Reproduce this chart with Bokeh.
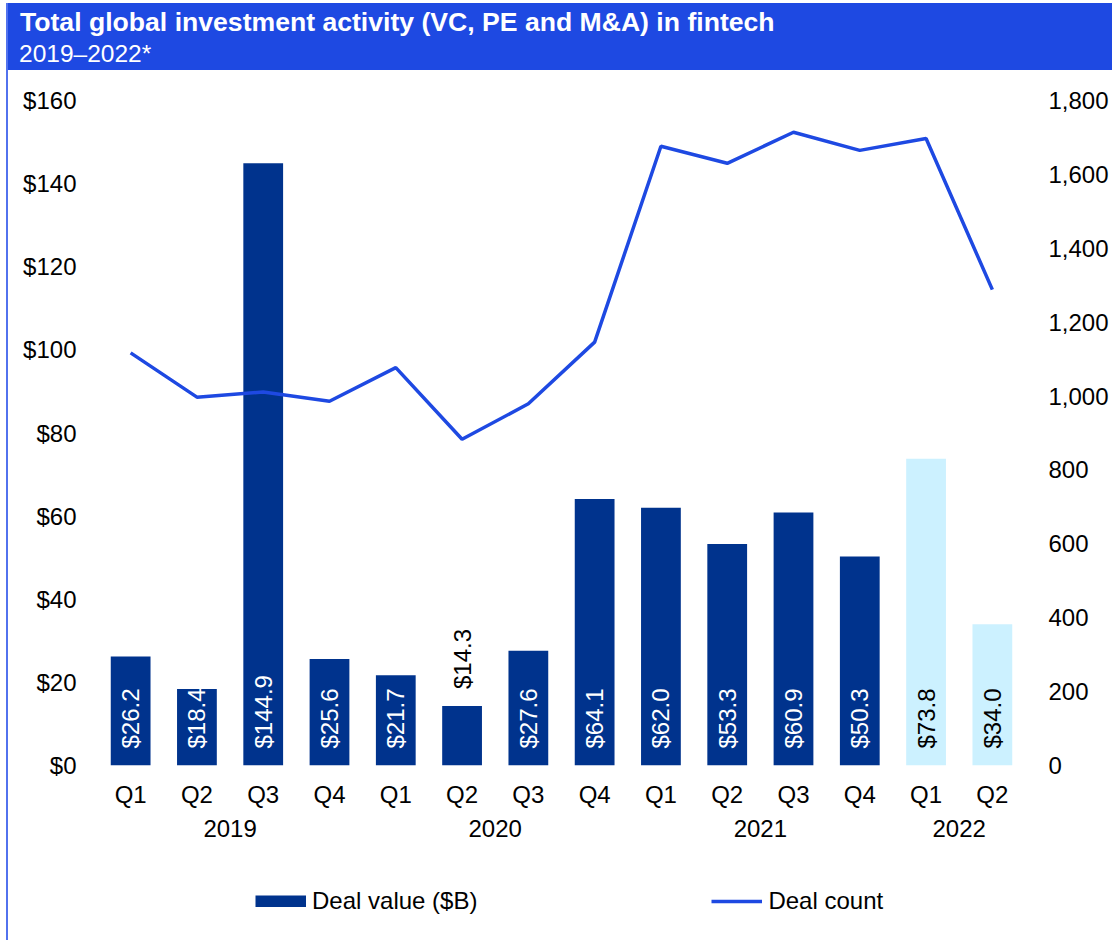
import math
from bokeh.plotting import figure
from bokeh.models import (FactorRange, Range1d, LinearAxis, FixedTicker, NumeralTickFormatter,
                          ColumnDataSource, Legend, LegendItem, Div)
from bokeh.layouts import row, column
from bokeh.transform import factor_cmap
from bokeh.core.properties import value
from bokeh.embed import file_html
from bokeh.resources import INLINE

# ---- data ----
years = ["2019"] * 4 + ["2020"] * 4 + ["2021"] * 4 + ["2022"] * 2
quarters = ["Q1", "Q2", "Q3", "Q4"] * 3 + ["Q1", "Q2"]
deal_value = [26.2, 18.4, 144.9, 25.6, 21.7, 14.3, 27.6, 64.1, 62.0, 53.3, 60.9, 50.3, 73.8, 34.0]
deal_count = [1117, 997, 1011, 986, 1077, 883, 979, 1146, 1676, 1630, 1714, 1665, 1697, 1288]
value_ticks = [0, 20, 40, 60, 80, 100, 120, 140, 160]
count_ticks = [0, 200, 400, 600, 800, 1000, 1200, 1400, 1600, 1800]
year_groups = ["2019", "2020", "2021", "2022"]

TITLE = "Total global investment activity (VC, PE and M&amp;A) in fintech"
SUBTITLE = "2019\u20132022*"
SERIES = ["Deal value ($B)", "Deal count"]

# ---- styles ----
DARK = "#00338D"
LIGHT = "#CCF1FF"
COBALT = "#1E49E2"
EDGE = "#5272EE"
FONT = "Liberation Sans"
FS = "24px"

factors = list(zip(years, quarters))
label_text = [f"${v:.1f}" for v in deal_value]
inside = [v >= 18 for v in deal_value]
label_y = [0 if ins else v for ins, v in zip(inside, deal_value)]
label_color = ["white" if (ins and y != "2022") else "black" for ins, y in zip(inside, years)]

src = ColumnDataSource(dict(x=factors, value=deal_value, count=deal_count,
                            label=label_text, label_y=label_y, label_color=label_color))

W = 1104

# ---- banner ----
banner_html = (
    f'<div style="position:relative;width:{W}px;height:67px;background:{COBALT};'
    f'color:white;font-family:\'Liberation Sans\',Arial,sans-serif;">'
    f'<div style="position:absolute;left:12px;top:6px;font-size:26.6px;font-weight:bold;'
    f'line-height:1;white-space:nowrap;">{TITLE}</div>'
    f'<div style="position:absolute;left:11px;top:39px;font-size:24.5px;'
    f'line-height:1;white-space:nowrap;">{SUBTITLE}</div>'
    f'</div>'
)
banner = Div(text=banner_html, width=W, height=67, margin=0)

# ---- main chart ----
p = figure(width=W, height=780,
           x_range=FactorRange(*factors, range_padding=0, group_padding=0, factor_padding=0),
           y_range=Range1d(0, 160), output_backend="svg", toolbar_location=None,
           min_border_left=89, min_border_right=87, min_border_top=30, min_border_bottom=85)
p.outline_line_color = None
p.grid.visible = False
p.extra_y_ranges = {"count": Range1d(0, 1800)}

bars = p.vbar(x="x", top="value", width=0.6, source=src, line_color=None,
              fill_color=factor_cmap("x", palette=[DARK, DARK, DARK, LIGHT],
                                     factors=year_groups, end=1))
line = p.line(x="x", y="count", source=src, y_range_name="count",
              line_color=COBALT, line_width=3.5)
p.text(x="x", y="label_y", text="label", source=src, angle=math.pi / 2,
       text_align="left", text_baseline="middle", y_offset=-17,
       text_color="label_color", text_font=value(FONT), text_font_size=FS)

ly = p.yaxis[0]
ly.ticker = FixedTicker(ticks=value_ticks)
ly.formatter = NumeralTickFormatter(format="$0")
ly.major_label_standoff = 15

ry = LinearAxis(y_range_name="count", ticker=FixedTicker(ticks=count_ticks),
                formatter=NumeralTickFormatter(format="0,0"))
ry.major_label_standoff = 17
p.add_layout(ry, "right")

for ax in [ly, ry]:
    ax.axis_line_color = None
    ax.major_tick_line_color = None
    ax.minor_tick_line_color = None
    ax.major_label_text_font = FONT
    ax.major_label_text_font_size = FS
    ax.major_label_text_color = "black"

xa = p.xaxis[0]
xa.axis_line_color = None
xa.major_tick_line_color = None
xa.minor_tick_line_color = None
xa.major_label_text_font = FONT
xa.major_label_text_font_size = FS
xa.major_label_text_color = "black"
xa.major_label_standoff = 9
xa.group_text_font = FONT
xa.group_text_font_size = FS
xa.group_text_font_style = "normal"
xa.group_text_color = "black"
xa.separator_line_alpha = 0

# ---- legend strip (swatches styled like the chart's series; no visible data) ----
nan = float("nan")
lf = figure(width=W, height=90, x_range=Range1d(0, 1), y_range=Range1d(0, 1),
            output_backend="svg", toolbar_location=None, min_border=0,
            x_axis_type=None, y_axis_type=None)
lf.outline_line_color = None
lf.grid.visible = False
lg_bar = lf.line(x=[nan, nan], y=[nan, nan], line_color=DARK, line_width=12, line_cap="butt")
lg_line = lf.line(x=[nan, nan], y=[nan, nan], line_color=COBALT, line_width=3.5)
legend = Legend(items=[LegendItem(label=SERIES[0], renderers=[lg_bar]),
                       LegendItem(label=SERIES[1], renderers=[lg_line])],
                orientation="horizontal", location=(158, 25),
                glyph_width=51, glyph_height=12, label_standoff=6, spacing=234,
                padding=0, margin=0, border_line_color=None, background_fill_alpha=0,
                label_text_font=FONT, label_text_font_size=FS, label_text_color="black")
lf.add_layout(legend, "center")

top_pad = Div(width=1112, height=3, margin=0)
left_pad = Div(width=6, height=937, margin=0)
edge = Div(width=2, height=937, margin=0, styles={"background-color": EDGE})
layout = column(top_pad, row(left_pad, edge, column(banner, p, lf, spacing=0), spacing=0), spacing=0)

open("out.html", "w").write(file_html(layout, INLINE))
